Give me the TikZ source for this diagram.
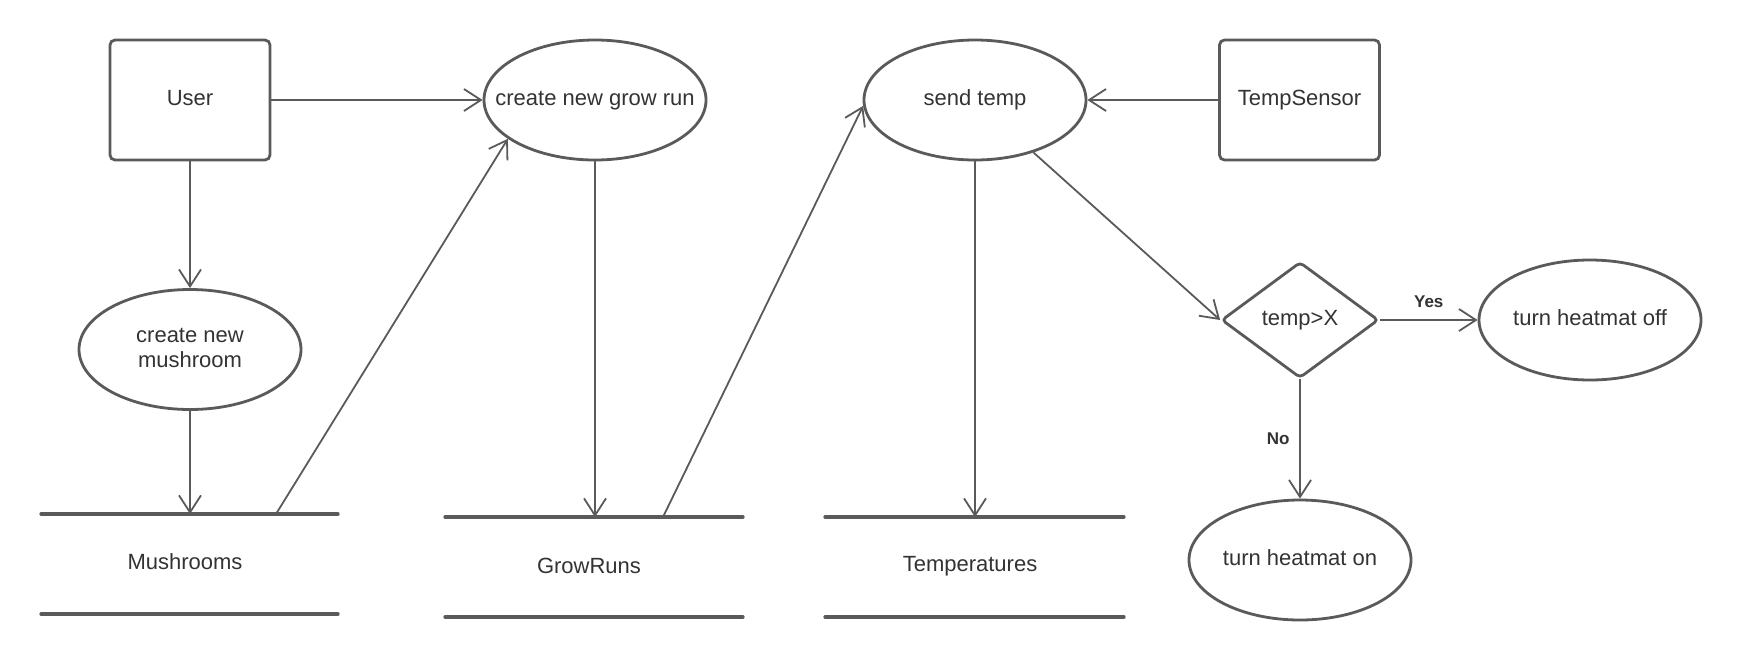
\documentclass[tikz,border=0pt]{standalone}
\usepackage{fontspec}
\setmainfont{Liberation Sans}
\usetikzlibrary{arrows.meta,shapes.geometric}
\definecolor{ln}{HTML}{5A5A5A}
\definecolor{tx}{HTML}{333333}
\begin{document}
\begin{tikzpicture}[x=0.5pt,y=-0.5pt,
  every node/.style={font=\fontsize{11}{12.5}\selectfont, text=tx},
  oneline/.style={text height=8pt, text depth=2.8pt},
  actor/.style={draw=ln, line width=1.4pt, rounded corners=2.5pt, minimum width=80pt, minimum height=60pt, inner sep=0pt, oneline},
  proc/.style={ellipse, draw=ln, line width=1.4pt, minimum width=111pt, minimum height=60pt, inner sep=0pt},
  decision/.style={diamond, draw=ln, line width=1.4pt, rounded corners=2pt, minimum width=78.5pt, minimum height=58pt, inner sep=0pt, oneline},
  storeline/.style={draw=ln, line width=1.6pt, line cap=round},
  flow/.style={draw=ln, line width=0.9pt, -{Straight Barb[length=8.5pt,width=11pt]}},
  lbl/.style={font=\fontsize{8.5}{10}\selectfont\bfseries}
]
\useasboundingbox[fill=white] (0,0) rectangle (1740,660);

% actors
\node[actor] (user) at (190,100) {User};
\node[actor] (ts) at (1299.5,100) {TempSensor};

% processes
\node[proc, oneline] (gr) at (595,100) {\makebox[0pt]{create new grow run}};
\node[proc, oneline] (st) at (975,100) {\makebox[0pt]{send temp}};
\node[proc] (mush) at (190,349.5) {\makebox[0pt]{\raisebox{0.5pt}{\begin{tabular}{@{}c@{}}create new\\mushroom\end{tabular}}}};
\node[proc, oneline] (off) at (1590,320) {\makebox[0pt]{turn heatmat off}};
\node[proc, oneline] (on) at (1300,560) {\makebox[0pt]{turn heatmat on}};

% decision
\node[decision] (dia) at (1300,320) {\makebox[0pt]{temp>X}};

% data stores
\coordinate (msL) at (41,514);  \coordinate (msR) at (338,514);
\coordinate (msBL) at (41,614); \coordinate (msBR) at (338,614);
\coordinate (msA) at (276,514);
\draw[storeline] (msL) -- (msR);
\draw[storeline] (msBL) -- (msBR);
\node (ms) at (185,562) {Mushrooms};

\coordinate (grL) at (445,517);  \coordinate (grR) at (743,517);
\coordinate (grBL) at (445,617); \coordinate (grBR) at (743,617);
\coordinate (grA) at (663,517);
\draw[storeline] (grL) -- (grR);
\draw[storeline] (grBL) -- (grBR);
\node (grs) at (589,566) {GrowRuns};

\coordinate (tpL) at (825,517);  \coordinate (tpR) at (1124,517);
\coordinate (tpBL) at (825,617); \coordinate (tpBR) at (1124,617);
\draw[storeline] (tpL) -- (tpR);
\draw[storeline] (tpBL) -- (tpBR);
\node (tps) at (970,566) {Temperatures};

% connectors
\draw[flow] (user.south) -- (mush.north);
\draw[flow] (user.east) -- (gr.west);
\draw[flow] (mush.south) -- (mush.south |- msL);
\draw[flow] (msA) -- (gr.204);
\draw[flow] (gr.south) -- (gr.south |- grL);
\draw[flow] (grA) -- (st.183);
\draw[flow] (ts.west) -- (st.east);
\draw[flow] (st.south) -- (st.south |- tpL);
\draw[flow] (st) -- (dia.west);
\draw[flow] (dia.east) -- node[lbl, above=2.5pt] {Yes} (off.west);
\draw[flow] (dia.south) -- node[lbl, left=1.5pt] {No} (on.north);
\end{tikzpicture}
\end{document}
